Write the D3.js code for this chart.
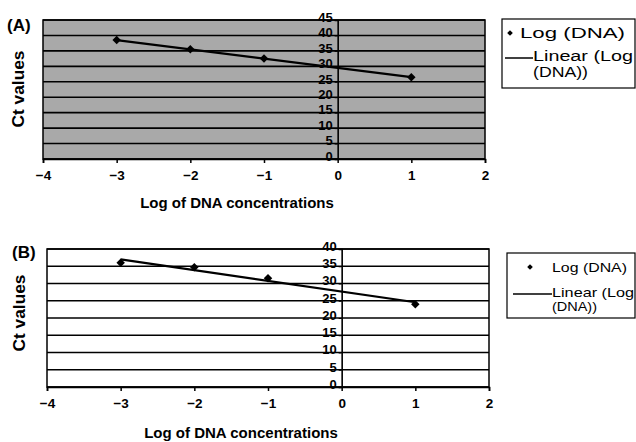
<!DOCTYPE html>
<html>
<head>
<meta charset="utf-8">
<script src="https://cdn.jsdelivr.net/npm/d3@7"></script>
<style>
  body { margin: 0; background: #fff; }
  svg { display: block; font-family: "Liberation Sans", Arial, sans-serif; }
</style>
</head>
<body>
<svg id="chart" width="636" height="442"></svg>
<script>
// Ct values against log of DNA concentration, two panels (A) and (B)

var logDnaA = [-3, -2, -1, 1];
var ctA = [38.5, 35.5, 32.5, 26.5];

var logDnaB = [-3, -2, -1, 1];
var ctB = [36, 34.7, 31.5, 24];

var xTicks = [-4, -3, -2, -1, 0, 1, 2];
var yTicksA = [0, 5, 10, 15, 20, 25, 30, 35, 40, 45];
var yTicksB = [0, 5, 10, 15, 20, 25, 30, 35, 40];

var legendLabels = ["Log (DNA)", "Linear (Log", "(DNA))"];

var svg = d3.select("#chart");

// least squares line, like the Excel "Linear" trendline
function fitLine(xs, ys) {
    var mx = d3.mean(xs), my = d3.mean(ys);
    var sxy = 0, sxx = 0;
    for (var i = 0; i < xs.length; i++) {
        sxy += (xs[i] - mx) * (ys[i] - my);
        sxx += (xs[i] - mx) * (xs[i] - mx);
    }
    var slope = sxy / sxx;
    return function (x) { return my + slope * (x - mx); };
}

function drawPanel(p) {
    var x = d3.scaleLinear().domain([-4, 2]).range([p.left, p.right]);
    var y = d3.scaleLinear().domain([0, p.yMax]).range([p.bottom, p.top]);
    var g = svg.append("g");

    g.append("rect")
        .attr("x", p.left).attr("y", p.top)
        .attr("width", p.right - p.left).attr("height", p.bottom - p.top)
        .attr("fill", p.fill).attr("stroke", "#000").attr("stroke-width", 1.5);

    g.selectAll(".grid").data(p.yTicks).enter().append("line")
        .attr("x1", p.left).attr("x2", p.right)
        .attr("y1", function (d) { return y(d); })
        .attr("y2", function (d) { return y(d); })
        .attr("stroke", "#000").attr("stroke-width", 1.6);

    // x axis along y = 0
    var xAxis = g.append("g")
        .attr("transform", "translate(0," + y(0) + ")")
        .call(d3.axisBottom(x).tickValues(xTicks).tickSize(4).tickFormat(d3.format("d")));
    xAxis.select(".domain").attr("stroke-width", 1.6);
    xAxis.selectAll("line").attr("stroke-width", 1.5);
    xAxis.selectAll("text")
        .attr("font-size", 13.5).attr("font-weight", "bold")
        .attr("font-family", "Liberation Sans, Arial, sans-serif")
        .attr("y", 11);

    // y axis crossing at x = 0
    var yAxis = g.append("g")
        .attr("transform", "translate(" + x(0) + ",0)")
        .call(d3.axisLeft(y).tickValues(p.yTicks).tickSize(3).tickFormat(d3.format("d")));
    yAxis.select(".domain").attr("stroke-width", 1.6);
    yAxis.selectAll("text")
        .attr("font-size", 13).attr("font-weight", "bold")
        .attr("font-family", "Liberation Sans, Arial, sans-serif")
        .attr("x", -5).attr("dy", "0.1em");

    var line = fitLine(p.xs, p.ys);
    var ends = d3.extent(p.xs);
    g.append("line")
        .attr("x1", x(ends[0])).attr("y1", y(line(ends[0])))
        .attr("x2", x(ends[1])).attr("y2", y(line(ends[1])))
        .attr("stroke", "#000").attr("stroke-width", 2.2);

    g.selectAll(".pt").data(p.xs).enter().append("path")
        .attr("d", d3.symbol(d3.symbolSquare, 36))
        .attr("transform", function (d, i) {
            return "translate(" + x(d) + "," + y(p.ys[i]) + ") rotate(45)";
        })
        .attr("fill", "#000");

    g.append("text")
        .attr("x", p.panelX).attr("y", p.panelY)
        .attr("font-size", 17).attr("font-weight", "bold")
        .text(p.panel);

    g.append("text")
        .attr("transform", "translate(" + p.ctX + "," + p.ctY + ") rotate(-90)")
        .attr("text-anchor", "middle")
        .attr("font-size", 16).attr("font-weight", "bold")
        .attr("textLength", 77).attr("lengthAdjust", "spacingAndGlyphs")
        .text("Ct values");

    g.append("text")
        .attr("x", p.titleX).attr("y", p.titleY)
        .attr("text-anchor", "middle")
        .attr("font-size", 15).attr("font-weight", "bold")
        .text("Log of DNA concentrations");

    // legend
    var L = p.legend;
    g.append("rect")
        .attr("x", L.x).attr("y", L.y).attr("width", L.w).attr("height", L.h)
        .attr("fill", "#fff").attr("stroke", "#000").attr("stroke-width", 1.2);
    g.append("path")
        .attr("d", d3.symbol(d3.symbolSquare, 16))
        .attr("transform", "translate(" + L.markX + "," + L.row1 + ") rotate(45)")
        .attr("fill", "#000");
    g.append("line")
        .attr("x1", L.lineX1).attr("x2", L.lineX2)
        .attr("y1", L.row2 + 2).attr("y2", L.row2 + 2)
        .attr("stroke", "#000").attr("stroke-width", 1.5);
    var rows = [L.row1, L.row2, L.row3];
    var starts = [L.textX1, L.lineX2, L.lineX2];
    legendLabels.forEach(function (t, i) {
        g.append("text")
            .attr("x", starts[i]).attr("y", rows[i]).attr("dy", "0.35em")
            .attr("font-size", L.fs)
            .attr("textLength", L.widths[i]).attr("lengthAdjust", "spacingAndGlyphs")
            .text(t);
    });
}

drawPanel({
    panel: "(A)", panelX: 7, panelY: 31,
    left: 43, right: 485, top: 20, bottom: 159, yMax: 45,
    yTicks: yTicksA, xs: logDnaA, ys: ctA, fill: "#a9a9a9",
    ctX: 24, ctY: 89, titleX: 237, titleY: 208,
    legend: { x: 502, y: 19, w: 133, h: 69, markX: 510, row1: 33, row2: 56, row3: 72,
              textX1: 520, lineX1: 505, lineX2: 533, fs: 14, widths: [105, 100, 55] }
});

drawPanel({
    panel: "(B)", panelX: 12, panelY: 258,
    left: 47, right: 489, top: 249, bottom: 387, yMax: 40,
    yTicks: yTicksB, xs: logDnaB, ys: ctB, fill: "#fff",
    ctX: 25, ctY: 313, titleX: 241, titleY: 438,
    legend: { x: 507, y: 253, w: 128, h: 65, markX: 530, row1: 267, row2: 292, row3: 306,
              textX1: 552, lineX1: 513, lineX2: 552, fs: 13, widths: [75, 82, 45] }
});
</script>
</body>
</html>
